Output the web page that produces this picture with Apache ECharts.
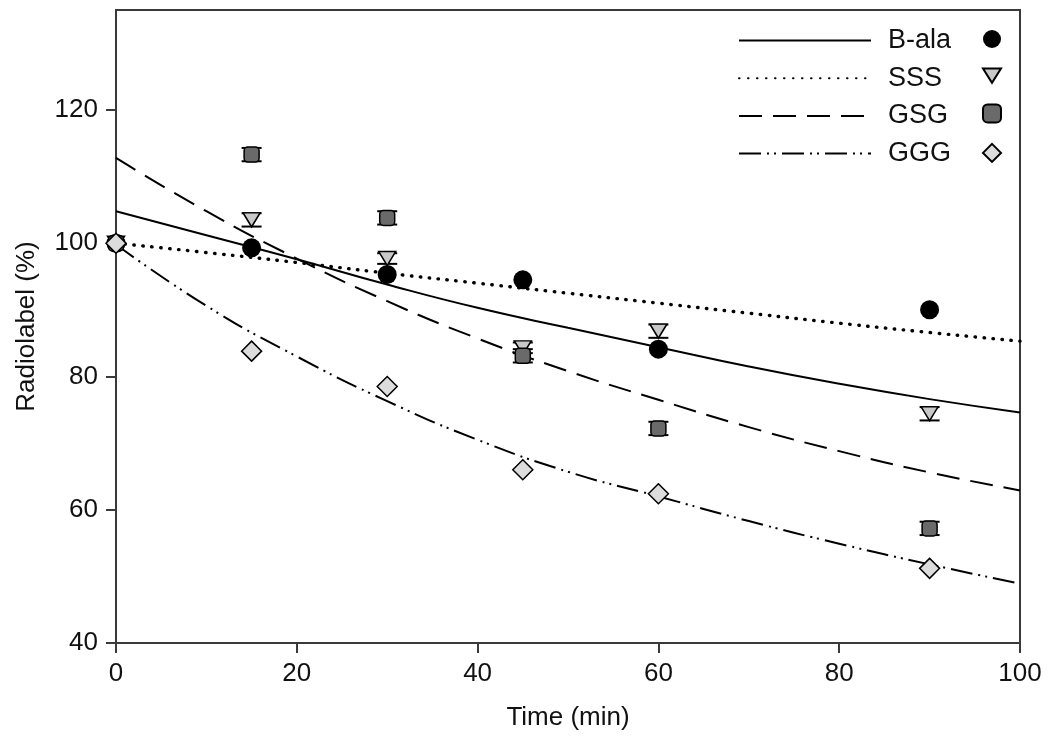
<!DOCTYPE html>
<html>
<head>
<meta charset="utf-8">
<script src="https://cdn.jsdelivr.net/npm/echarts@6/dist/echarts.min.js"></script>
<style>
html,body{margin:0;padding:0;background:#fff;}
#chart{width:1050px;height:743px;}
</style>
</head>
<body>
<div id="chart"></div>
<script>
// ---- data ----
const seriesNames = ['B-ala', 'SSS', 'GSG', 'GGG'];
const timePoints = [0, 15, 30, 45, 60, 90];
const balaValues = [100, 99.3, 95.3, 94.5, 84.1, 90.0];
const sssValues = [100, 103.5, 97.7, 84.3, 86.8, 74.4];
const gsgValues = [100, 113.3, 103.8, 83.1, 72.2, 57.2];
const gggValues = [100, 83.8, 78.5, 66.0, 62.4, 51.2];
const sssErrors = [0, 1.0, 0.8, 0.8, 1.0, 1.0];
const gsgErrors = [0, 1.0, 1.0, 1.0, 1.0, 1.0];

const fitTimes = [0, 10, 20, 30, 40, 50, 60, 70, 80, 90, 100];
const fitBala = [104.8, 101.2, 97.6, 93.8, 90.3, 87.3, 84.4, 81.5, 78.9, 76.6, 74.6];
const fitSSS = [100, 98.6, 97.1, 95.5, 94.0, 92.5, 91.0, 89.5, 88.0, 86.6, 85.3];
const fitGSG = [112.8, 104.8, 97.7, 91.3, 85.7, 80.8, 76.5, 72.4, 68.8, 65.6, 62.9];
const fitGGG = [99.8, 90.6, 83.0, 76.3, 70.5, 65.7, 62.0, 58.3, 54.9, 51.8, 48.9];

const xTicks = [0, 20, 40, 60, 80, 100];
const yTicks = [40, 60, 80, 100, 120];

// ---- build ----
const FONT = "'Liberation Sans', Arial, Helvetica, sans-serif";
const pair = (xs, ys) => xs.map((x, i) => [x, ys[i]]);
const errData = (ys, es) => timePoints.map((x, i) => [x, ys[i] - es[i], ys[i] + es[i], es[i]]);

function renderErr(params, api) {
  if (api.value(3) === 0) return null;
  const x = api.value(0);
  const lo = api.coord([x, api.value(1)]);
  const hi = api.coord([x, api.value(2)]);
  const hw = 10;
  const st = { stroke: '#000', lineWidth: 2 };
  return {
    type: 'group',
    children: [
      { type: 'line', shape: { x1: hi[0] - hw, y1: hi[1], x2: hi[0] + hw, y2: hi[1] }, style: st },
      { type: 'line', shape: { x1: lo[0] - hw, y1: lo[1], x2: lo[0] + hw, y2: lo[1] }, style: st }
    ]
  };
}

const lineStyles = [
  { color: '#000', width: 2, type: 'solid' },
  { color: '#000', width: 3.4, type: [0.5, 8.5], cap: 'round' },
  { color: '#000', width: 2, type: [23, 11] },
  { color: '#000', width: 2, type: [22, 6, 2, 5, 2, 6] }
];
const fits = [fitBala, fitSSS, fitGSG, fitGGG];
const pts = [balaValues, sssValues, gsgValues, gggValues];
const markers = [
  { symbol: 'circle', size: 19, color: '#000' },
  { symbol: 'path://M0,0 L20,0 L10,16 Z', size: [17, 14], color: '#c8c8c8' },
  { symbol: 'roundRect', size: 15, color: '#6a6a6a' },
  { symbol: 'diamond', size: 20, color: '#dcdcdc' }
];

const series = [];
seriesNames.forEach((n, i) => {
  series.push({
    name: n, type: 'line', smooth: true, symbol: 'none',
    data: pair(fitTimes, fits[i]), lineStyle: lineStyles[i],
    itemStyle: { color: '#000' }, z: 2, silent: true
  });
});
series.push({ name: 'errSSS', type: 'custom', renderItem: renderErr, data: errData(sssValues, sssErrors), z: 3, silent: true });
series.push({ name: 'errGSG', type: 'custom', renderItem: renderErr, data: errData(gsgValues, gsgErrors), z: 3, silent: true });
seriesNames.forEach((n, i) => {
  const m = markers[i];
  series.push({
    name: n + ' data', type: 'scatter', data: pair(timePoints, pts[i]),
    symbol: m.symbol, symbolSize: m.size,
    itemStyle: { color: m.color, borderColor: '#000', borderWidth: i === 0 ? 0 : 1.5, opacity: 1 },
    z: 4 + i
  });
});

const option = {
  animation: false,
  backgroundColor: '#fff',
  grid: { left: 116, right: 30, top: 10, bottom: 100, show: true, borderColor: '#3a3a3a', borderWidth: 2, backgroundColor: 'transparent' },
  legend: [
    {
      data: seriesNames, orient: 'vertical', left: 733, top: 22,
      itemWidth: 132, itemHeight: 24, itemGap: 10.7,
      itemStyle: { opacity: 0 },
      textStyle: { fontFamily: FONT, fontSize: 27, color: '#111', padding: [0, 0, 0, 12] },
      selectedMode: false
    },
    {
      data: seriesNames.map(n => n + ' data'), orient: 'vertical', left: 977, top: 25,
      itemWidth: 18, itemHeight: 18, itemGap: 19.5,
      formatter: () => '',
      textStyle: { fontSize: 8, lineHeight: 8 },
      selectedMode: false
    }
  ],
  xAxis: {
    type: 'value', min: 0, max: 100, interval: 20,
    name: 'Time (min)', nameLocation: 'middle', nameGap: 62,
    nameTextStyle: { fontFamily: FONT, fontSize: 26, color: '#111' },
    axisLine: { lineStyle: { color: '#3a3a3a', width: 2 } },
    axisTick: { show: true, inside: false, length: 10, lineStyle: { color: '#3a3a3a', width: 2 } },
    axisLabel: { fontFamily: FONT, fontSize: 26, color: '#111', margin: 18 },
    splitLine: { show: false }
  },
  yAxis: {
    type: 'value', min: 40, max: 135, interval: 20,
    name: 'Radiolabel (%)', nameLocation: 'middle', nameGap: 76, nameRotate: 90,
    nameTextStyle: { fontFamily: FONT, fontSize: 26, color: '#111' },
    axisLine: { lineStyle: { color: '#3a3a3a', width: 2 } },
    axisTick: { show: true, inside: false, length: 10, customValues: yTicks, lineStyle: { color: '#3a3a3a', width: 2 } },
    axisLabel: {
      fontFamily: FONT, fontSize: 26, color: '#111', margin: 18, customValues: yTicks,
      formatter: v => (yTicks.indexOf(v) >= 0 ? String(v) : '')
    },
    splitLine: { show: false }
  },
  series: series
};

const chart = echarts.init(document.getElementById('chart'), null, { renderer: 'canvas' });
chart.setOption(option);
</script>
</body>
</html>
